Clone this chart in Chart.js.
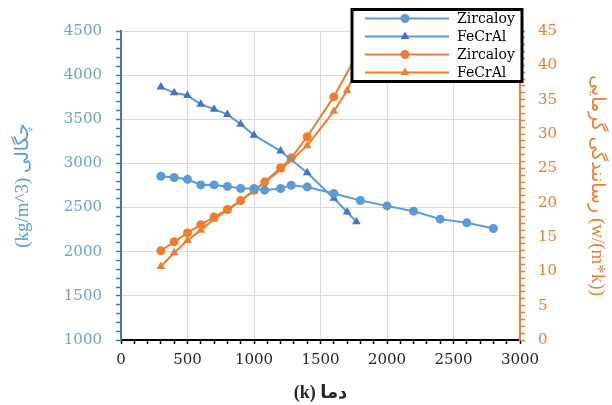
<!DOCTYPE html>
<html>
<head>
<meta charset="utf-8">
<script src="https://cdn.jsdelivr.net/npm/chart.js@4.4.0/dist/chart.umd.min.js"></script>
<style>
html, body { margin: 0; padding: 0; background: #fff; }
#wrap { width: 612px; height: 405px; position: relative; }
</style>
</head>
<body>
<div id="wrap"><canvas id="chart"></canvas></div>
<script>
// temperatures (K) and values
const zrTemp = [300, 400, 500, 600, 700, 800, 900, 1000, 1080, 1200, 1280, 1400, 1600, 1800, 2000, 2200, 2400, 2600, 2800];
const zrDensity = [2855, 2840, 2820, 2757, 2757, 2740, 2716, 2716, 2697, 2716, 2753, 2734, 2659, 2580, 2519, 2459, 2369, 2327, 2263];
const feTemp = [300, 400, 500, 600, 700, 800, 900, 1000, 1200, 1400, 1600, 1700, 1770];
const feDensity = [3865, 3800, 3770, 3670, 3615, 3555, 3445, 3320, 3140, 2895, 2605, 2450, 2340];
const zrCondTemp = [300, 400, 500, 600, 700, 800, 900, 1000, 1080, 1200, 1280, 1400, 1600, 1800];
const zrCond = [13.0, 14.3, 15.6, 16.8, 17.9, 19.0, 20.3, 21.8, 23.0, 25.1, 26.5, 29.6, 35.4, 42.5];
const feCondTemp = [300, 400, 500, 600, 700, 800, 900, 1000, 1200, 1400, 1600, 1700, 1770];
const feCond = [10.7, 12.7, 14.5, 16.0, 17.6, 18.9, 20.3, 21.7, 24.8, 28.3, 33.3, 36.3, 39.5];
const seriesLabels = ['Zircaloy', 'FeCrAl', 'Zircaloy', 'FeCrAl'];

const xTickLabels = [0, 500, 1000, 1500, 2000, 2500, 3000];
const densityTickLabels = [1000, 1500, 2000, 2500, 3000, 3500, 4000, 4500];
const condTickLabels = [0, 5, 10, 15, 20, 25, 30, 35, 40, 45];

const blue = '#5B9BD5';
const darkBlue = '#4472C4';
const orange = '#ED7D31';
const serif = "'DejaVu Serif', serif";
const titleFont = "'Liberation Serif', 'DejaVu Sans', serif";

const pts = (xs, ys) => xs.map((x, i) => ({ x: x, y: ys[i] }));

// legend box drawn over the plot, like the original
const boxLegend = {
    id: 'boxLegend',
    afterDraw(chart) {
        const ctx = chart.ctx;
        const x0 = 352, y0 = 9.5, w = 170, h = 72;
        ctx.save();
        ctx.fillStyle = '#fff';
        ctx.fillRect(x0, y0, w, h);
        ctx.lineWidth = 3;
        ctx.strokeStyle = '#000';
        ctx.strokeRect(x0, y0, w, h);
        chart.data.datasets.forEach((ds, i) => {
            const y = y0 + 9 + i * 18;
            ctx.strokeStyle = ds.borderColor;
            ctx.lineWidth = 2;
            ctx.beginPath();
            ctx.moveTo(x0 + 13, y);
            ctx.lineTo(x0 + 97, y);
            ctx.stroke();
            ctx.fillStyle = ds.pointBackgroundColor;
            Chart.helpers.drawPoint(ctx, { pointStyle: ds.pointStyle, radius: ds.pointRadius, rotation: 0, borderWidth: 0 }, x0 + 53, y);
            ctx.fillStyle = '#000';
            ctx.font = '14px ' + serif;
            ctx.textBaseline = 'middle';
            ctx.textAlign = 'left';
            ctx.fillText(ds.label, x0 + 105, y + 1);
        });
        ctx.restore();
    }
};

const ctx = document.getElementById('chart').getContext('2d');
const chart = new Chart(ctx, {
    type: 'line',
    data: {
        datasets: [{
            label: seriesLabels[0],
            data: pts(zrTemp, zrDensity),
            yAxisID: 'y',
            borderColor: blue,
            pointBackgroundColor: blue,
            pointBorderWidth: 0,
            pointStyle: 'circle',
            pointRadius: 4.5,
            borderWidth: 2
        }, {
            label: seriesLabels[1],
            data: pts(feTemp, feDensity),
            yAxisID: 'y',
            borderColor: blue,
            pointBackgroundColor: darkBlue,
            pointBorderWidth: 0,
            pointStyle: 'triangle',
            pointRadius: 5,
            borderWidth: 2
        }, {
            label: seriesLabels[2],
            data: pts(zrCondTemp, zrCond),
            yAxisID: 'y1',
            borderColor: orange,
            pointBackgroundColor: orange,
            pointBorderWidth: 0,
            pointStyle: 'circle',
            pointRadius: 4.5,
            borderWidth: 2
        }, {
            label: seriesLabels[3],
            data: pts(feCondTemp, feCond),
            yAxisID: 'y1',
            borderColor: orange,
            pointBackgroundColor: orange,
            pointBorderWidth: 0,
            pointStyle: 'triangle',
            pointRadius: 5,
            borderWidth: 2
        }]
    },
    options: {
        responsive: true,
        maintainAspectRatio: false,
        animation: false,
        layout: { padding: { top: 31, left: 0, right: 0, bottom: 0 } },
        plugins: {
            legend: { display: false },
            tooltip: { enabled: false }
        },
        scales: {
            x: {
                type: 'linear',
                min: 0,
                max: 3000,
                ticks: {
                    stepSize: 100,
                    autoSkip: false,
                    maxRotation: 0,
                    padding: 7,
                    color: '#262626',
                    font: { family: serif, size: 15 },
                    callback: v => xTickLabels.includes(v) ? v : ''
                },
                grid: {
                    color: c => (xTickLabels.includes(c.tick.value) && c.tick.value > 0 && c.tick.value < 3000) ? '#D9D9D9' : 'rgba(0,0,0,0)',
                    tickColor: '#000',
                    tickLength: 4,
                    tickWidth: 1.5
                },
                border: { color: '#000', width: 2 },
                title: {
                    display: true,
                    text: '(k) دما',
                    color: '#262626',
                    font: { family: titleFont, size: 18, weight: 'bold' },
                    padding: { top: 0, bottom: 1 }
                },
                afterFit: s => { s.height = 65; }
            },
            y: {
                type: 'linear',
                position: 'left',
                min: 1000,
                max: 4500,
                ticks: {
                    stepSize: 100,
                    autoSkip: false,
                    padding: 14,
                    color: '#6A9FD6',
                    font: { family: serif, size: 15 },
                    callback: v => densityTickLabels.includes(v) ? v : ''
                },
                grid: {
                    color: c => (densityTickLabels.includes(c.tick.value) && c.tick.value > 1000) ? '#D9D9D9' : 'rgba(0,0,0,0)',
                    tickColor: darkBlue,
                    tickLength: 5,
                    tickWidth: 1.5
                },
                border: { color: darkBlue, width: 2 },
                title: {
                    display: true,
                    text: '(kg/m^3) چگالی',
                    color: blue,
                    font: { family: titleFont, size: 19 },
                    padding: { top: 12, bottom: 0 }
                },
                afterFit: s => { s.width = 121; }
            },
            y1: {
                type: 'linear',
                position: 'right',
                min: 0,
                max: 45,
                ticks: {
                    stepSize: 1,
                    autoSkip: false,
                    padding: 13,
                    color: orange,
                    font: { family: serif, size: 15 },
                    callback: v => condTickLabels.includes(v) ? v : ''
                },
                grid: {
                    drawOnChartArea: false,
                    tickColor: orange,
                    tickLength: 5,
                    tickWidth: 1.5
                },
                border: { color: orange, width: 2 },
                title: {
                    display: true,
                    text: 'رسانندگی گرمایی (w/(m*k))',
                    color: orange,
                    font: { family: titleFont, size: 19 },
                    padding: { top: 4, bottom: 0 }
                },
                afterFit: s => { s.width = 92; }
            }
        }
    },
    plugins: [boxLegend]
});
</script>
</body>
</html>
